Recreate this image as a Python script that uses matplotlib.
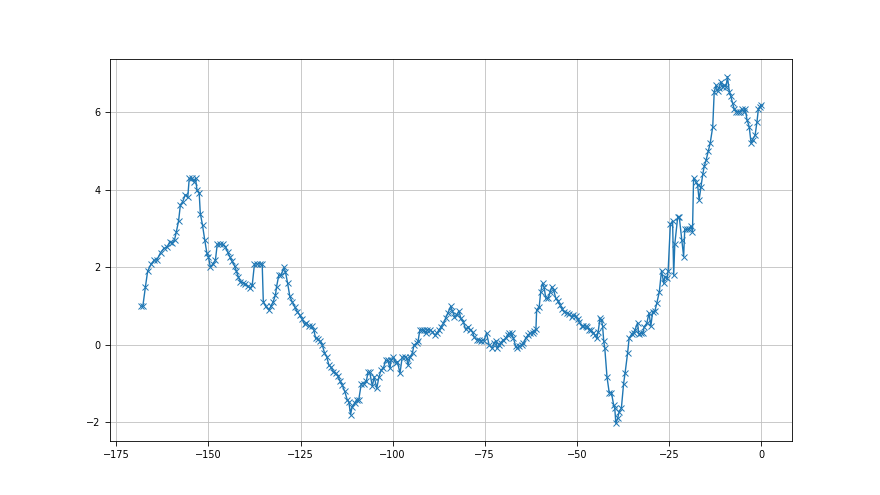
import matplotlib
matplotlib.use("Agg")
import matplotlib.pyplot as plt

x_vals = [
    -168.3, -167.8, -167.1, -166.5, -165.6, -164.7, -164.0, -163.0, -162.1, -161.2,
    -160.5, -159.9, -159.2, -158.7, -158.1, -157.6, -157.0, -156.3, -155.6, -155.2,
    -154.4, -154.0, -153.5, -153.1, -152.5, -152.2, -151.6, -151.0, -150.4, -150.0,
    -149.5, -148.8, -148.1, -147.6, -146.9, -146.1, -145.4, -144.8, -144.2, -143.6,
    -142.9, -142.4, -141.9, -141.3, -140.6, -140.0, -139.3, -138.6, -138.1,
    -137.5, -136.8, -136.1, -135.4, -135.1, -134.5, -133.6, -133.0, -132.4, -131.8,
    -131.5, -130.9, -130.3, -129.5, -129.1, -128.5, -127.9, -127.3, -126.6, -125.9,
    -125.2, -124.5, -123.9, -123.4, -122.7, -122.0, -121.4, -120.9, -120.3, -119.6,
    -119.1, -118.5, -117.9, -117.3, -116.7, -116.1, -115.5, -114.9, -114.3, -113.7,
    -113.0, -112.3, -111.9, -111.4, -111.0, -110.3, -109.8, -109.2, -108.5, -107.8,
    -107.1, -106.7, -106.2,
    -105.5, -105.0, -104.3, -103.7, -103.1, -102.5, -101.9, -101.3, -100.7, -100.4,
    -99.8, -99.2, -98.7, -98.0, -97.4, -96.7, -96.2, -95.8, -95.3, -94.6,
    -94.2, -93.5, -93.1, -92.6, -91.9, -91.5, -91.0, -90.6, -89.9, -89.2,
    -88.6, -88.0, -87.4, -86.8, -86.2, -85.6, -85.0, -84.2, -83.8, -83.2,
    -82.6, -82.0, -81.5, -80.8, -80.2, -79.5, -79.0, -78.3, -77.9, -77.2,
    -76.5, -75.9, -75.2, -74.5, -73.8,
    -72.9, -72.5, -72.0, -71.6, -71.1, -70.7, -69.9, -69.3, -68.8, -68.4,
    -67.7, -67.2, -66.6, -66.1, -65.7, -65.0, -64.5, -63.9, -63.2, -62.7,
    -62.0, -61.6, -61.1, -60.9, -60.2, -59.8, -59.3, -58.9, -58.4, -57.8,
    -57.2, -56.8, -56.3, -55.7, -55.2, -54.5, -53.9, -53.4, -52.7, -52.1,
    -51.4, -50.9, -50.3, -49.8, -49.4, -48.7, -48.2, -47.6, -47.1, -46.7,
    -46.2, -45.7, -45.1, -44.6, -44.2, -43.7, -43.3, -43.0, -42.7, -42.4,
    -41.8, -41.2, -40.6, -40.0, -39.7, -39.4, -38.9, -38.5, -37.9, -37.3,
    -36.9, -36.2, -35.8, -35.1, -34.6, -34.2, -33.5, -33.2, -32.6, -32.1,
    -31.7, -31.0, -30.4, -29.9, -29.4, -28.8,
    -28.3, -27.6, -27.0, -26.4, -26.1, -25.5, -25.2, -24.6, -24.0, -23.7,
    -23.4, -22.6, -22.2, -21.5, -21.0, -20.7, -20.1, -19.5, -19.0, -18.6,
    -18.3, -17.7, -17.2, -16.8, -16.3, -15.8, -15.4, -14.9,
    -14.3, -13.8, -13.1, -12.7, -12.2, -11.8, -11.3, -10.9, -10.4, -10.0,
    -9.5, -9.1, -8.6, -8.2, -7.7, -7.3, -6.8, -6.2, -5.6, -5.2,
    -4.7, -4.3, -3.8, -3.2, -2.7, -2.3, -1.6, -1.1, -0.7, -0.3, 0.0,
]

y_vals = [
    1.00, 1.00, 1.50, 1.90, 2.08, 2.19, 2.19, 2.38, 2.49, 2.52,
    2.66, 2.63, 2.71, 2.92, 3.20, 3.62, 3.69, 3.87, 3.82, 4.30,
    4.30, 4.21, 4.30, 4.00, 3.91, 3.39, 3.09, 2.71, 2.36, 2.28,
    2.02, 2.08, 2.19, 2.60, 2.60, 2.60, 2.53, 2.40, 2.28, 2.16,
    2.04, 1.90, 1.76, 1.63, 1.60, 1.57, 1.52, 1.46, 1.55,
    2.09, 2.09, 2.09, 2.09, 1.12, 1.00, 0.90, 1.00, 1.12, 1.29,
    1.50, 1.80, 1.80, 2.00, 1.89, 1.59, 1.25, 1.12, 0.99, 0.86,
    0.77, 0.66, 0.53, 0.57, 0.49, 0.49, 0.39, 0.17, 0.15, 0.09,
    0.00, -0.20, -0.30, -0.52, -0.58, -0.69, -0.73, -0.80, -0.92, -1.03,
    -1.20, -1.42, -1.46, -1.80, -1.59, -1.50, -1.42, -1.42, -1.00, -1.00,
    -0.92, -0.71, -0.71,
    -1.07, -0.82, -1.12, -0.82, -0.64, -0.60, -0.40, -0.40, -0.60, -0.39,
    -0.32, -0.46, -0.43, -0.73, -0.32, -0.30, -0.34, -0.52, -0.32, -0.20,
    0.00, 0.04, 0.09, 0.39, 0.39, 0.39, 0.30, 0.39, 0.39, 0.34,
    0.26, 0.30, 0.39, 0.47, 0.56, 0.69, 0.82, 1.00, 0.88, 0.73,
    0.77, 0.88, 0.69, 0.60, 0.40, 0.47, 0.39, 0.34, 0.21, 0.13,
    0.13, 0.11, 0.11, 0.30, 0.00,
    -0.09, 0.04, 0.11, -0.09, 0.00, 0.06, 0.13, 0.17, 0.26, 0.30,
    0.30, 0.17, -0.03, -0.09, -0.03, 0.00, 0.04, 0.17, 0.26, 0.30,
    0.32, 0.37, 0.40, 0.90, 0.99, 1.37, 1.59, 1.50, 1.20, 1.20,
    1.37, 1.50, 1.42, 1.20, 1.14, 1.03, 0.92, 0.86, 0.82, 0.80,
    0.73, 0.77, 0.75, 0.66, 0.60, 0.49, 0.49, 0.49, 0.46, 0.39,
    0.39, 0.32, 0.26, 0.17, 0.34, 0.69, 0.64, 0.49, 0.11, -0.09,
    -0.83, -1.23, -1.23, -1.55, -1.63, -2.02, -1.89, -1.72, -1.63, -1.00,
    -0.73, -0.20, 0.17, 0.28, 0.32, 0.39, 0.57, 0.28, 0.30, 0.30,
    0.47, 0.56, 0.82, 0.49, 0.86, 0.88,
    1.07, 1.37, 1.92, 1.59, 1.76, 1.72, 1.92, 3.12, 3.20, 1.80,
    2.60, 3.31, 3.31, 2.71, 2.28, 2.98, 2.98, 3.00, 3.07, 2.92,
    4.30, 4.21, 4.12, 3.74, 4.08, 4.41, 4.61, 4.77,
    5.01, 5.20, 5.63, 6.53, 6.70, 6.55, 6.64, 6.79, 6.66, 6.70,
    6.66, 6.92, 6.53, 6.42, 6.23, 6.10, 6.02, 6.02, 6.02, 6.10,
    6.02, 6.10, 5.81, 5.63, 5.21, 5.30, 5.41, 5.75, 6.10, 6.14, 6.20,
]

fig, ax = plt.subplots(figsize=(8.8, 4.95), dpi=100)
ax.plot(x_vals, y_vals, color="#1f77b4", marker="x", linewidth=1.0,
        markersize=5, markeredgewidth=0.7)
ax.grid(True, color="#c0c0c0", linewidth=0.6)
ax.tick_params(labelsize=7, width=0.6)
for s in ax.spines.values():
    s.set_linewidth(0.6)
fig.savefig("out.png", dpi=100)
